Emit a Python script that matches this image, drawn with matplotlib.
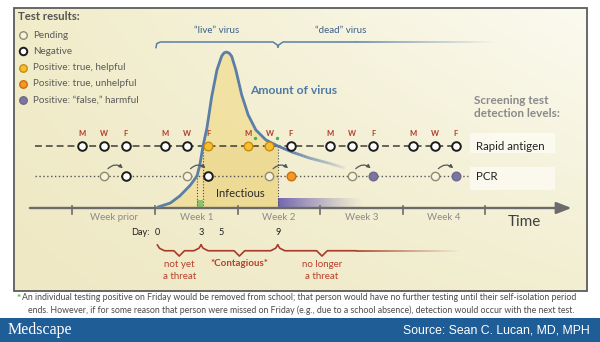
import numpy as np
import matplotlib
matplotlib.use("Agg")
import matplotlib.pyplot as plt
from matplotlib.patches import Rectangle, FancyArrowPatch
from matplotlib.collections import LineCollection

plt.rcParams['font.family'] = ['Lato', 'DejaVu Sans']

# ---------------- data ----------------
# amount of virus over time (x in days from start of week 1, y relative, peak = 100)
virus_day = [0.25, 1.3, 2.1, 3.0, 3.56, 3.8, 4.07, 4.4, 4.8, 5.25, 5.65, 5.85,
             6.05, 6.3, 6.5, 6.85, 7.35, 7.9, 8.55, 9.4, 10.42, 11.6, 13.1, 14.7, 16.1]
virus_amt = [0.6, 3.2, 7.7, 14.7, 20.5, 27.6, 39.7, 51.3, 71.2, 88.5, 97.4, 99.4,
             100, 99.2, 97.2, 88.5, 72.4, 59.6, 50.0, 43.6, 39.7, 35.9, 32.0, 28.8, 25.6]

# detection thresholds of the two screening tests
rapid_level = 39.7
pcr_level = 20.5

week_ticks = [-7, 0, 7, 14, 21, 28]
week_names = ["Week prior", "Week 1", "Week 2", "Week 3", "Week 4"]
test_letters = ["M", "W", "F"]
test_offset = [0.85, 2.7, 4.5]

rapid_results = [
    ["neg", "neg", "neg"],
    ["neg", "neg", "helpful"],
    ["helpful", "helpful", "neg"],
    ["neg", "neg", "neg"],
    ["neg", "neg", "neg"],
]
# PCR swab taken Wednesday (pending), result on Friday
pcr_results = ["neg", "neg", "unhelpful", "false", "false"]
# rapid tests marked with the footnote dot (week index, test index)
flagged = [(2, 0), (2, 1)]

day_labels = ["0", "3", "5", "9"]
day_pos = [0.2, 3.9, 5.6, 10.4]
phase_labels = ["not yet\na threat", "*Contagious*", "no longer\na threat"]

legend_keys = ["pending", "neg", "helpful", "unhelpful", "false"]
legend_labels = ["Pending", "Negative", "Positive: true, helpful",
                 "Positive: true, unhelpful", "Positive: \u201cfalse,\u201d harmful"]

STYLE = {
    "pending":   dict(mfc="#f6f2de", mec="#8f8c6e", mew=1.0),
    "neg":       dict(mfc="white", mec="#1c1c1c", mew=1.4),
    "helpful":   dict(mfc="#f7be2f", mec="#c88c12", mew=1.0),
    "unhelpful": dict(mfc="#f39a26", mec="#cf6c0c", mew=1.0),
    "false":     dict(mfc="#7b769e", mec="#6d6891", mew=1.0),
}

BLUE = "#5a7ea6"
RED = "#b03d2b"


def crossings(xs, ys, level):
    """Return x positions where the curve crosses a horizontal level."""
    out = []
    for i in range(len(xs) - 1):
        y0, y1 = ys[i], ys[i + 1]
        if (y0 - level) * (y1 - level) <= 0 and y0 != y1:
            t = (level - y0) / (y1 - y0)
            x = xs[i] + t * (xs[i + 1] - xs[i])
            if not out or abs(out[-1] - x) > 1e-6:
                out.append(x)
    return out


vd = np.array(virus_day)
va = np.array(virus_amt)
rap_up, rap_down = crossings(virus_day, virus_amt, rapid_level)[:2]
pcr_up = crossings(virus_day, virus_amt, pcr_level)[0]

# ---------------- figure ----------------
fig = plt.figure(figsize=(6, 3.42), dpi=100)
fig.patch.set_facecolor("white")

bg = fig.add_axes([0, 0, 1, 1])
bg.set_xlim(0, 600)
bg.set_ylim(342, 0)
bg.axis("off")

# panel background gradient
ny, nx = 60, 120
u = np.linspace(0, 1, nx)[None, :, None]
v = np.linspace(0, 1, ny)[:, None, None]
c_tl = np.array([0.945, 0.925, 0.79])
c_tr = np.array([0.985, 0.98, 0.94])
c_bl = np.array([0.935, 0.91, 0.77])
c_br = np.array([0.95, 0.935, 0.82])
grad = (1 - u) * (1 - v) * c_tl + u * (1 - v) * c_tr + (1 - u) * v * c_bl + u * v * c_br
bg.imshow(grad, extent=(14, 587, 291, 8), aspect="auto", zorder=0, interpolation="bilinear")
bg.add_patch(Rectangle((14, 8), 573, 283, fill=False, ec="#5c5c5c", lw=1.3, zorder=1))

# legend of test results
bg.text(18, 17, "Test results:", fontsize=8.2, fontweight="bold", color="#555555", va="center")
for i, (key, lab) in enumerate(zip(legend_keys, legend_labels)):
    y = 35 + i * 16.3
    bg.plot([22.5], [y], "o", ms=5.4, **STYLE[key], zorder=3)
    bg.text(33, y, lab, fontsize=7.1, color="#5a5a5a", va="center")

# footnote and footer band
bg.text(16.5, 298.5, "*", fontsize=7, color="#4caf50", va="center", fontweight="bold")
bg.text(22, 298, "An individual testing positive on Friday would be removed from school; that person "
        "would have no further testing until their self-isolation period",
        fontsize=6.35, color="#4a4a4a", va="center", ha="left")
bg.text(301, 310, "ends. However, if for some reason that person were missed on Friday (e.g., due to a "
        "school absence), detection would occur with the next test.",
        fontsize=6.35, color="#4a4a4a", va="center", ha="center")
bg.add_patch(Rectangle((0, 318), 600, 24, fc="#1f5d96", ec="none", zorder=1))
bg.text(8, 330.5, "Medscape", fontsize=11.5, color="white", va="center",
        family=["Liberation Serif", "DejaVu Serif"], zorder=2)
bg.text(590, 330.5, "Source: Sean C. Lucan, MD, MPH", fontsize=8.8, color="white",
        va="center", ha="right", family=["Liberation Sans", "DejaVu Sans"], zorder=2)

# ---------------- timeline axes ----------------
ax = fig.add_axes([14 / 600, (342 - 290) / 342, 573 / 600, 270 / 342])
ax.patch.set_alpha(0)
ax.axis("off")

# area under the virus curve while live virus can be detected by rapid test
k_end = virus_day.index(10.42)
ax.fill_between(vd[:k_end + 1], va[:k_end + 1], 0, color="#f1de96", alpha=0.8, lw=0, zorder=1)
ax.add_patch(Rectangle((rap_up, 0), rap_down - rap_up, rapid_level, fc="#e3cf80",
                       alpha=0.35, lw=0, zorder=1.2))
ax.text((rap_up + rap_down) / 2, 9.6, "Infectious", fontsize=8.1, color="#2b2b2b",
        ha="center", va="center", zorder=6)

# detection windows: PCR-only (green) and PCR on dead virus (purple fade)
ax.add_patch(Rectangle((pcr_up, 0), rap_up - pcr_up, 5.4, fc="#8dc26b", lw=0, zorder=2))
fade = np.zeros((1, 100, 4))
fade[..., 0], fade[..., 1], fade[..., 2] = 0.42, 0.37, 0.69
fade[..., 3] = np.linspace(0.95, 0.0, 100) ** 1.2
ax.imshow(fade, extent=(rap_down, 17.7, 0, 6.4), aspect="auto", zorder=2, interpolation="bilinear")

# dotted threshold crossings
for x, lvl in [(pcr_up, pcr_level), (rap_up, rapid_level), (rap_down, rapid_level)]:
    ax.plot([x, x], [0, lvl], ls=(0, (1, 1.6)), color="#4d4d4d", lw=0.8, zorder=2.5)

# time axis
ax.annotate("", xy=(35.3, 0), xytext=(-10.6, 0),
            arrowprops=dict(arrowstyle="-|>,head_length=0.9,head_width=0.35",
                            color="#6b6b6b", lw=1.7, shrinkA=0, shrinkB=0), zorder=3)
for w in week_ticks:
    ax.plot([w, w], [1.0, -3.6], color="#6b6b6b", lw=1.2, zorder=3)
for i, name in enumerate(week_names):
    ax.text(week_ticks[i] + 3.5, -6.2, name, fontsize=7, color="#8a8a8a", ha="center", va="center")
ax.text(31.3, -9.2, "Time", fontsize=11, color="#3f3f3f", ha="center", va="center")

# day markers and phase brackets
ax.text(-0.45, -15.4, "Day:", fontsize=6.6, color="#1e1e1e", ha="right", va="center")
for lab, x in zip(day_labels, day_pos):
    ax.text(x, -15.4, lab, fontsize=6.6, color="#1e1e1e", ha="center", va="center")


def curly(a, b, c, top=-23.7, mid=-27.4, tip=-30.8):
    return [(a, top), (a + 0.18, mid + 1.6), (a + 0.6, mid), (c - 0.45, mid), (c, tip),
            (c + 0.45, mid), (b - 0.6, mid), (b - 0.18, mid + 1.6), (b, top)]


for a, b in [(day_pos[0], day_pos[1]), (day_pos[1], day_pos[3])]:
    pts = np.array(curly(a, b, (a + b) / 2))
    ax.plot(pts[:, 0], pts[:, 1], color="#a83a29", lw=1.2, solid_joinstyle="round", zorder=3)
# open-ended bracket that fades out
c3 = 14.15
pts = np.array([(day_pos[3], -23.7), (day_pos[3] + 0.18, -25.8), (day_pos[3] + 0.6, -27.4),
                (c3 - 0.45, -27.4), (c3, -30.8), (c3 + 0.45, -27.4), (17.0, -27.4)])
ax.plot(pts[:, 0], pts[:, 1], color="#a83a29", lw=1.2, solid_joinstyle="round", zorder=3)
xs = np.linspace(17.0, 26.0, 40)
segs = [[(xs[i], -27.4), (xs[i + 1], -27.4)] for i in range(len(xs) - 1)]
ax.add_collection(LineCollection(segs, colors=[(0.66, 0.23, 0.16, a) for a in np.linspace(1, 0, len(segs))],
                                 lw=1.2, zorder=3))

phase_x = [(day_pos[0] + day_pos[1]) / 2, (day_pos[1] + day_pos[3]) / 2, c3]
for x, lab in zip(phase_x, phase_labels):
    single = "\n" not in lab
    ax.text(x, -35.3 if single else -39.8, lab, fontsize=7, color="#b8402b", ha="center",
            va="center", linespacing=1.45, fontweight="bold" if single else "normal")

# live / dead virus bracket
ax.plot([0.08, 0.15, 0.45, 10.0, 10.35, 10.42], [102.8, 105.4, 106.4, 106.4, 104.6, 103.2],
        color=BLUE, lw=1.1, solid_joinstyle="round", zorder=3)
ax.plot([10.42, 10.5, 10.85, 17.0], [103.2, 104.6, 106.4, 106.4], color=BLUE, lw=1.1, zorder=3)
xs = np.linspace(17.0, 29.0, 50)
segs = [[(xs[i], 106.4), (xs[i + 1], 106.4)] for i in range(len(xs) - 1)]
ax.add_collection(LineCollection(segs, colors=[(0.35, 0.49, 0.65, a) for a in np.linspace(1, 0, len(segs))],
                                 lw=1.1, zorder=3))
ax.text(5.2, 113.7, "\u201clive\u201d virus", fontsize=7, color="#3e5f88", ha="center", va="center")
ax.text(15.7, 113.7, "\u201cdead\u201d virus", fontsize=7, color="#3e5f88", ha="center", va="center")

# virus curve: solid part then fading tail
k_tail = virus_day.index(11.6)
ax.plot(vd[:k_tail + 1], va[:k_tail + 1], color=BLUE, lw=2.0, solid_joinstyle="round",
        solid_capstyle="round", zorder=4)
tx, ty = [], []
for i in range(k_tail, len(vd) - 1):
    t = np.linspace(0, 1, 12, endpoint=False)
    tx.extend(vd[i] + t * (vd[i + 1] - vd[i]))
    ty.extend(va[i] + t * (va[i + 1] - va[i]))
tx.append(vd[-1]); ty.append(va[-1])
segs = [[(tx[i], ty[i]), (tx[i + 1], ty[i + 1])] for i in range(len(tx) - 1)]
alphas = np.linspace(1.0, 0.1, len(segs))
ax.add_collection(LineCollection(segs, colors=[(0.353, 0.494, 0.651, a) for a in alphas],
                                 lw=2.0, capstyle="butt", zorder=4))
ax.text(8.05, 75.6, "Amount of virus", fontsize=8.7, fontweight="bold", color="#4d79a8",
        ha="left", va="center", zorder=6)

# test rows
rapid_x = [[week_ticks[w] + o for o in test_offset] for w in range(len(rapid_results))]
ax.plot([-10.2, rapid_x[-1][-1]], [rapid_level] * 2, ls=(0, (4.5, 2.6)), color="#3d3d3d", lw=1.1, zorder=3)
ax.plot([-10.2, 26.5], [pcr_level] * 2, ls=(0, (1, 1.8)), color="#555555", lw=1.0, zorder=3)

for w, week in enumerate(rapid_results):
    for j, res in enumerate(week):
        x = rapid_x[w][j]
        ax.plot([x], [rapid_level], "o", ms=6.2, **STYLE[res], zorder=5)
        ax.text(x, 48.0, test_letters[j], fontsize=5.5, fontweight="bold", color=RED,
                ha="center", va="center", zorder=6)
for w, j in flagged:
    ax.plot([rapid_x[w][j] + 0.6], [rapid_level + 5.0], "o", ms=2.4, color="#46b04a", mec="none", zorder=6)

for w, res in enumerate(pcr_results):
    xw = week_ticks[w] + test_offset[1]
    xf = week_ticks[w] + test_offset[2]
    ax.plot([xw], [pcr_level], "o", ms=6.0, **STYLE["pending"], zorder=5)
    ax.plot([xf], [pcr_level], "o", ms=6.2, **STYLE[res], zorder=5)
    ax.add_patch(FancyArrowPatch((xw + 0.15, pcr_level + 3.4), (xf - 0.05, pcr_level + 3.8),
                                 connectionstyle="arc3,rad=-0.55", arrowstyle="-|>",
                                 mutation_scale=5, lw=0.9, color="#555555", zorder=5))

# right-hand labels
ax.text(27.0, 64.8, "Screening test\ndetection levels:", fontsize=8.5, fontweight="bold",
        color="#8a8a8a", ha="left", va="center", linespacing=1.25)
ax.add_patch(Rectangle((26.7, 35.3), 7.2, 12.8, fc="#fdfcf4", alpha=0.8, lw=0, zorder=2))
ax.add_patch(Rectangle((26.7, 11.5), 7.2, 14.8, fc="#fdfcf4", alpha=0.8, lw=0, zorder=2))
ax.text(27.2, rapid_level, "Rapid antigen", fontsize=8.3, color="#222222", ha="left", va="center", zorder=6)
ax.text(27.2, pcr_level, "PCR", fontsize=8.3, color="#222222", ha="left", va="center", zorder=6)

ax.set_xlim(-11.95, 36.61)
ax.set_ylim(-52.56, 120.5)

fig.savefig("out.png", dpi=100)
